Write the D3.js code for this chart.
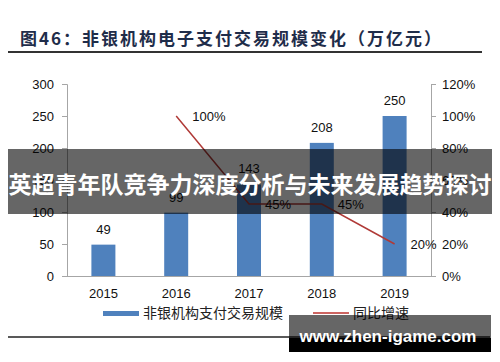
<!DOCTYPE html>
<html>
<head>
<meta charset="utf-8">
<style>
  body { margin: 0; background: #fff; }
  svg text { font-family: "Liberation Sans", Arial, "Noto Sans CJK SC", sans-serif; }
  .cjk { font-family: "Noto Sans CJK SC", sans-serif; }
</style>
</head>
<body>
<svg id="chart" width="500" height="362"></svg>
<script src="https://cdn.jsdelivr.net/npm/d3@7/dist/d3.min.js"></script>
<script>
var years = ['2015', '2016', '2017', '2018', '2019'];
var volume = [49, 99, 143, 208, 250];
var growth = [null, 100, 45, 45, 20];
var leftTicks = [0, 50, 100, 150, 200, 250, 300];
var rightTicks = [0, 20, 40, 60, 80, 100, 120];

var svg = d3.select('#chart');
var plotL = 67, plotR = 431, plotT = 84, plotB = 276;

var x = d3.scaleBand().domain(years).range([plotL, plotR]).paddingInner(0.66).paddingOuter(0.33);
var yL = d3.scaleLinear().domain([0, 300]).range([plotB, plotT]);
var yR = d3.scaleLinear().domain([0, 120]).range([plotB, plotT]);

// title
svg.append('text').attr('class', 'cjk')
  .attr('x', 20).attr('y', 45)
  .style('font-size', '17px').style('font-weight', 'bold')
  .style('letter-spacing', '2px').attr('fill', '#1f2d4a')
  .text('图46：非银机构电子支付交易规模变化（万亿元）');
svg.append('line').attr('x1', 8).attr('x2', 482).attr('y1', 52).attr('y2', 52)
  .attr('stroke', '#333').attr('stroke-width', 2);

// axes
var gl = svg.append('g').attr('transform', 'translate(' + plotL + ',0)')
  .call(d3.axisLeft(yL).tickValues(leftTicks).tickSize(5).tickPadding(8));
var gr = svg.append('g').attr('transform', 'translate(' + plotR + ',0)')
  .call(d3.axisRight(yR).tickValues(rightTicks).tickSize(5).tickPadding(6)
    .tickFormat(function(d){ return d + '%'; }));
var gb = svg.append('g').attr('transform', 'translate(0,' + plotB + ')')
  .call(d3.axisBottom(x).tickSize(0).tickPadding(13));
gb.select('.domain').attr('d', 'M' + plotL + ',0.5H' + plotR);
[gl, gr, gb].forEach(function(g){
  g.select('.domain').attr('stroke', '#a6a6a6');
  g.selectAll('.tick line').attr('stroke', '#a6a6a6');
  g.selectAll('.tick text').style('font-size', '13px').attr('fill', '#111')
    .style('font-family', '"Liberation Sans", Arial, sans-serif');
});

// bars
var bw = 24;
svg.selectAll('.bar').data(volume).enter().append('rect')
  .attr('class', 'bar')
  .attr('x', function(d, i){ return x(years[i]) + x.bandwidth() / 2 - bw / 2; })
  .attr('width', bw)
  .attr('y', function(d){ return yL(d); })
  .attr('height', function(d){ return plotB - yL(d); })
  .attr('fill', '#4f81bd');
svg.selectAll('.blabel').data(volume).enter().append('text')
  .attr('x', function(d, i){ return x(years[i]) + x.bandwidth() / 2; })
  .attr('y', function(d){ return yL(d) - 11; })
  .attr('text-anchor', 'middle').style('font-size', '13px').attr('fill', '#111')
  .text(function(d){ return d; });

// growth line
var pts = growth.map(function(d, i){ return {v: d, x: x(years[i]) + x.bandwidth() / 2}; })
  .filter(function(p){ return p.v !== null; });
svg.append('path').datum(pts)
  .attr('d', d3.line().x(function(p){ return p.x; }).y(function(p){ return yR(p.v); }))
  .attr('fill', 'none').attr('stroke', '#b03a37').attr('stroke-width', 1.5);
svg.selectAll('.glabel').data(pts).enter().append('text')
  .attr('x', function(p){ return p.x + 16; })
  .attr('y', function(p){ return yR(p.v) + 5; })
  .style('font-size', '13px').attr('fill', '#111')
  .text(function(p){ return p.v + '%'; });

// legend
svg.append('rect').attr('x', 103).attr('y', 311).attr('width', 36).attr('height', 5).attr('fill', '#4f81bd');
svg.append('text').attr('class', 'cjk').attr('x', 143).attr('y', 318)
  .style('font-size', '14px').attr('fill', '#222').text('非银机构支付交易规模');
svg.append('line').attr('x1', 313).attr('x2', 349).attr('y1', 313).attr('y2', 313)
  .attr('stroke', '#cd6562').attr('stroke-width', 2);
svg.append('text').attr('class', 'cjk').attr('x', 353).attr('y', 318)
  .style('font-size', '14px').attr('fill', '#222').text('同比增速');

// bottom rule
svg.append('line').attr('x1', 8).attr('x2', 490).attr('y1', 337).attr('y2', 337)
  .attr('stroke', '#222').attr('stroke-width', 1.5);

// overlay banner
svg.append('rect').attr('x', 8).attr('y', 149).attr('width', 484).attr('height', 65)
  .attr('fill', 'rgba(0,0,0,0.6)');
svg.append('text').attr('class', 'cjk').attr('x', 250).attr('y', 193)
  .attr('text-anchor', 'middle').style('font-size', '23px').style('font-weight', 'bold')
  .attr('fill', '#fff').text('英超青年队竞争力深度分析与未来发展趋势探讨');

// watermark
svg.append('rect').attr('x', 289).attr('y', 338).attr('width', 202).attr('height', 14).attr('fill', '#000');
svg.append('rect').attr('x', 289).attr('y', 315).attr('width', 202).attr('height', 37)
  .attr('fill', 'rgba(0,0,0,0.6)');
svg.append('text').attr('x', 388).attr('y', 342)
  .attr('text-anchor', 'middle').style('font-size', '17px').style('font-weight', 'bold')
  .attr('fill', '#fff').text('www.zhen-igame.com');
</script>
</body>
</html>
